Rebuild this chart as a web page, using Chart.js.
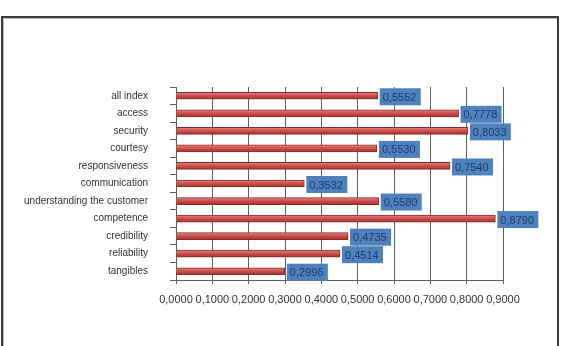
<!DOCTYPE html>
<html>
<head>
<meta charset="utf-8">
<script src="https://cdn.jsdelivr.net/npm/chart.js@4"></script>
<style>
body { margin: 0; background: #fff; }
#wrap { position: relative; width: 565px; height: 346px; overflow: hidden; }
#frame { position: absolute; left: 1px; top: 16px; width: 554px; height: 340px; border: 2px solid #3a3a3a; box-shadow: inset 1px 1px 0 #bbb; }
#chart { position: absolute; left: 0; top: 0; }
</style>
</head>
<body>
<div id="wrap">
  <div id="frame"></div>
  <canvas id="chart" width="565" height="346"></canvas>
</div>
<script>
var categories = ["all index", "access", "security", "courtesy", "responsiveness", "communication",
    "understanding the customer", "competence", "credibility", "reliability", "tangibles"];
var values = [0.5552, 0.7778, 0.8033, 0.5530, 0.7540, 0.3532, 0.5580, 0.8790, 0.4735, 0.4514, 0.2996];
var xTicks = [0, 0.1, 0.2, 0.3, 0.4, 0.5, 0.6, 0.7, 0.8, 0.9];

function fmt(v) {
    return v.toFixed(4).replace(".", ",");
}

// little shading so the bars look like the excel cylinders
function barFill(c) {
    var sc = c.chart.scales.y;
    if (!sc || c.dataIndex === undefined) return "#cc4f4b";
    var y = sc.getPixelForValue(c.dataIndex);
    if (!isFinite(y)) return "#cc4f4b";
    var g = c.chart.ctx.createLinearGradient(0, y - 4, 0, y + 4);
    g.addColorStop(0, "#e7918e");
    g.addColorStop(0.45, "#d0524e");
    g.addColorStop(1, "#9a2e2b");
    return g;
}

// blue value boxes next to each bar
var valueBoxes = {
    id: "valueBoxes",
    afterDatasetsDraw: function (chart) {
        var ctx = chart.ctx;
        var meta = chart.getDatasetMeta(0);
        ctx.save();
        ctx.font = "11px 'Liberation Sans'";
        ctx.textBaseline = "middle";
        meta.data.forEach(function (bar, i) {
            var txt = fmt(values[i]);
            var w = 41, h = 17;
            var x = bar.x + 2, y = bar.y - h / 2 + 1;
            ctx.fillStyle = "#4f81bd";
            ctx.fillRect(x, y, w, h);
            ctx.fillStyle = "#1c3a70";
            ctx.fillText(txt, x + 3, y + h / 2 + 1);
        });
        ctx.restore();
    }
};

var chart = new Chart(document.getElementById("chart"), {
    type: "bar",
    data: {
        labels: categories,
        datasets: [{
            data: values,
            backgroundColor: barFill,
            borderColor: "#8a2a27",
            borderWidth: 1,
            barThickness: 7
        }]
    },
    options: {
        indexAxis: "y",
        responsive: false,
        animation: false,
        layout: { padding: { top: 87, right: 62, left: 0, bottom: 0 } },
        plugins: { legend: { display: false }, tooltip: { enabled: false } },
        scales: {
            x: {
                min: 0,
                max: 0.9,
                afterBuildTicks: function (scale) {
                    scale.ticks = xTicks.map(function (v) { return { value: v }; });
                },
                afterFit: function (scale) { scale.height = 66; },
                ticks: {
                    padding: 9,
                    color: "#333",
                    font: { family: "Liberation Sans", size: 11 },
                    maxRotation: 0,
                    autoSkip: false,
                    callback: function (v) { return fmt(v); }
                },
                grid: { color: "#5e5e5e", tickLength: 4 },
                border: { color: "#5e5e5e" }
            },
            y: {
                afterFit: function (scale) { scale.width = 176; },
                ticks: {
                    padding: 22,
                    color: "#333",
                    font: { family: "Liberation Sans", size: 10 }
                },
                grid: { drawOnChartArea: false, color: "#5e5e5e", tickLength: 6 },
                border: { color: "#5e5e5e" }
            }
        }
    },
    plugins: [valueBoxes]
});
</script>
</body>
</html>
